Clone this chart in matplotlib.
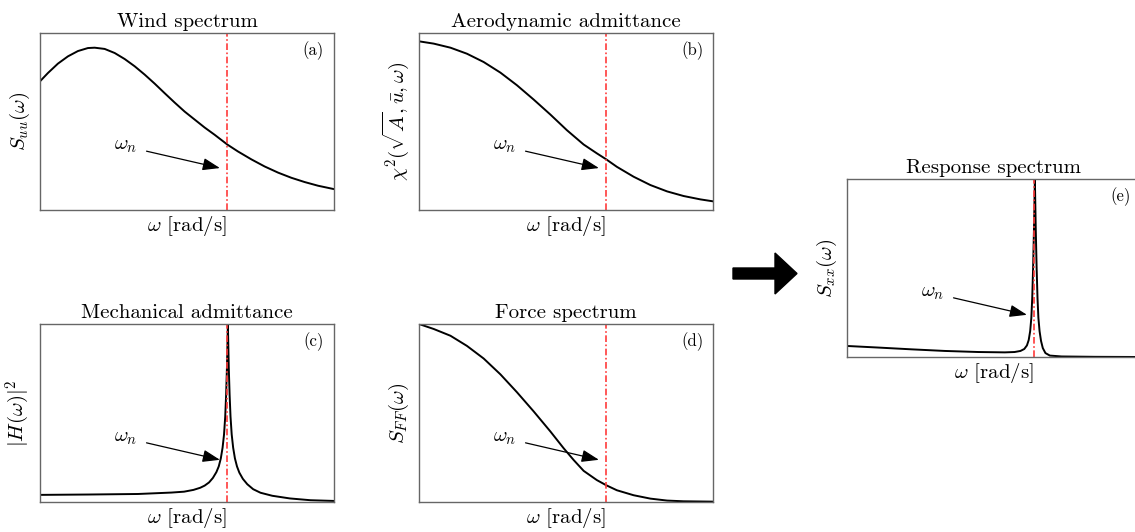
import matplotlib
matplotlib.use("Agg")
import matplotlib.pyplot as plt
from matplotlib.patches import FancyArrow

plt.rcParams['font.family'] = 'serif'
plt.rcParams['font.serif'] = ['cmr10']
plt.rcParams['mathtext.fontset'] = 'cm'
plt.rcParams['axes.unicode_minus'] = False

# normalised frequency (0..1) and normalised spectral values
omega_n = 0.637

wind_w = [0.000, 0.027, 0.061, 0.095, 0.129, 0.163, 0.186, 0.220, 0.254, 0.288,
          0.322, 0.356, 0.390, 0.424, 0.458, 0.492, 0.526, 0.560, 0.594, 0.637,
          0.673, 0.719, 0.764, 0.810, 0.855, 0.900, 0.946, 1.000]
wind_s = [0.727, 0.774, 0.827, 0.868, 0.898, 0.915, 0.917, 0.910, 0.887, 0.853,
          0.812, 0.765, 0.714, 0.660, 0.607, 0.556, 0.511, 0.466, 0.425, 0.370,
          0.331, 0.286, 0.246, 0.211, 0.182, 0.158, 0.137, 0.118]

aero_w = [0.000, 0.050, 0.107, 0.163, 0.220, 0.277, 0.333, 0.390, 0.447, 0.503,
          0.560, 0.605, 0.637, 0.673, 0.730, 0.787, 0.844, 0.900, 0.957, 1.000]
aero_s = [0.953, 0.940, 0.917, 0.883, 0.836, 0.776, 0.705, 0.624, 0.539, 0.451,
          0.370, 0.320, 0.286, 0.244, 0.188, 0.141, 0.105, 0.079, 0.060, 0.049]

mech_w = [0.000, 0.163, 0.333, 0.447, 0.490, 0.522, 0.545, 0.560, 0.575, 0.588,
          0.600, 0.608, 0.615, 0.621, 0.626, 0.630, 0.633, 0.636, 0.639, 0.642,
          0.645, 0.648, 0.652, 0.657, 0.663, 0.670, 0.678, 0.690, 0.705, 0.725,
          0.750, 0.790, 0.850, 0.920, 1.000]
mech_s = [0.040, 0.042, 0.045, 0.053, 0.058, 0.068, 0.080, 0.092, 0.110, 0.135,
          0.168, 0.200, 0.245, 0.305, 0.380, 0.480, 0.600, 0.760, 1.000, 0.760,
          0.600, 0.480, 0.380, 0.305, 0.245, 0.200, 0.165, 0.130, 0.100, 0.072,
          0.052, 0.035, 0.020, 0.010, 0.006]

force_w = [0.000, 0.050, 0.107, 0.163, 0.220, 0.277, 0.333, 0.390, 0.447, 0.492,
           0.526, 0.560, 0.605, 0.637, 0.673, 0.730, 0.787, 0.844, 0.900, 1.000]
force_s = [1.000, 0.972, 0.934, 0.877, 0.806, 0.717, 0.617, 0.509, 0.396, 0.302,
           0.236, 0.175, 0.123, 0.094, 0.066, 0.038, 0.019, 0.008, 0.004, 0.002]

resp_w = [0.000, 0.107, 0.220, 0.333, 0.447, 0.537, 0.570, 0.590, 0.603, 0.612,
          0.618, 0.623, 0.627, 0.630, 0.633, 0.636, 0.639, 0.642, 0.645, 0.648,
          0.651, 0.655, 0.660, 0.666, 0.675, 0.690, 0.730, 0.844, 1.000]
resp_s = [0.062, 0.053, 0.043, 0.034, 0.028, 0.026, 0.028, 0.034, 0.045, 0.065,
          0.095, 0.145, 0.220, 0.330, 0.500, 0.720, 1.000, 0.720, 0.500, 0.330,
          0.220, 0.145, 0.090, 0.050, 0.022, 0.008, 0.003, 0.001, 0.000]

titles = ['Wind spectrum', 'Aerodynamic admittance', 'Mechanical admittance',
          'Force spectrum', 'Response spectrum']
ylabels = [r'$S_{uu}(\omega)$', r'$\chi^2(\sqrt{A},\bar{u},\omega)$',
           r'$|H(\omega)|^2$', r'$S_{FF}(\omega)$', r'$S_{xx}(\omega)$']
tags = ['(a)', '(b)', '(c)', '(d)', '(e)']
curves = [(wind_w, wind_s), (aero_w, aero_s), (mech_w, mech_s),
          (force_w, force_s), (resp_w, resp_s)]

W, H = 1135, 532
fig = plt.figure(figsize=(W / 100, H / 100), dpi=100)

# axes boxes in pixels: left, top, width, height
boxes = [(40, 33, 294, 177), (419, 33, 294, 177),
         (40, 324, 294, 178), (419, 324, 294, 178),
         (847, 179, 294, 178)]

for i, (l, t, w, h) in enumerate(boxes):
    ax = fig.add_axes([l / W, (H - t - h) / H, w / W, h / H])
    x, y = curves[i]
    ax.plot(x, y, color='black', lw=1.4)
    ax.axvline(omega_n, color='#ff3b3b', lw=1.2, dashes=(4, 1.5, 1, 1.5))
    ax.set_xlim(0, 1)
    ax.set_ylim(0, 1)
    ax.set_xticks([])
    ax.set_yticks([])
    for sp in ax.spines.values():
        sp.set_color('0.4')
        sp.set_linewidth(1.0)
    ax.set_title(titles[i], fontsize=15, pad=4)
    ax.set_xlabel(r'$\omega$ [rad/s]', fontsize=15, labelpad=3)
    ax.set_ylabel(ylabels[i], fontsize=15, labelpad=6)
    ax.text(0.93, 0.90, tags[i], transform=ax.transAxes, fontsize=12,
            ha='center', va='center')
    ax.annotate(r'$\omega_n$', xy=(0.612, 0.237), xycoords='axes fraction',
                xytext=(0.29, 0.36), textcoords='axes fraction',
                fontsize=15, ha='center', va='center',
                arrowprops=dict(arrowstyle='-|>,head_length=0.7,head_width=0.25',
                                color='black', lw=0.9, shrinkA=5, shrinkB=0))

# big arrow between the panels (in inches)
fig.patches.append(FancyArrow(7.33, 2.585, 0.64, 0, width=0.11, head_width=0.41,
                              head_length=0.22, length_includes_head=True,
                              color='black', transform=fig.dpi_scale_trans))

fig.savefig('out.png', dpi=100)
